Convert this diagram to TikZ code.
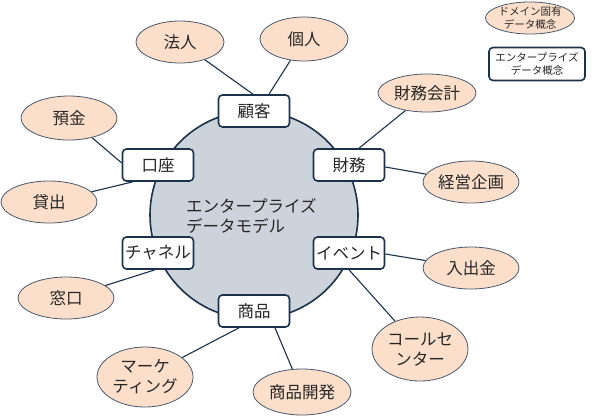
\documentclass[tikz,border=0pt]{standalone}
\usepackage{fontspec}
\setmainfont{Noto Sans CJK JP}
\usetikzlibrary{shapes.geometric,calc}
\definecolor{navy}{HTML}{1B324A}
\definecolor{peach}{HTML}{FCDFCA}
\definecolor{hub}{HTML}{CDD3DB}
\definecolor{txt}{HTML}{262626}
\definecolor{ellb}{HTML}{4A5A6E}
\tikzset{
  ent/.style={draw=navy,line width=1.6pt,fill=white,rounded corners=4pt,minimum width=71pt,minimum height=32pt,inner sep=0pt,font=\fontsize{16.5}{18}\selectfont,text=txt},
  dom/.style={ellipse,draw=ellb,line width=0.8pt,fill=peach,inner sep=0pt,font=\fontsize{16.5}{18}\selectfont,text=txt,align=center},
  link/.style={draw=navy,line width=1.1pt},
}
\begin{document}
\begin{tikzpicture}[x=1pt,y=-1pt]
\useasboundingbox (0,0) rectangle (593,416);
\fill[white] (0,0) rectangle (593,416);
% hub circle
\node[circle,draw=navy,line width=1.6pt,fill=hub,minimum size=208pt,inner sep=0pt] (hubc) at (254,215) {};
\node[anchor=north west,align=left,font=\fontsize{16.5}{20}\selectfont,text=txt,inner sep=0pt] (hubt) at (186,198) {エンタープライズ\\データモデル};
% domain ellipses
\node[dom,minimum width=88pt,minimum height=42pt] (houjin) at (180,42) {法人};
\node[dom,minimum width=88pt,minimum height=44pt] (kojin) at (304,39) {個人};
\node[dom,minimum width=96pt,minimum height=44pt] (yokin) at (69,118) {預金};
\node[dom,minimum width=96pt,minimum height=42pt] (kashi) at (49,202) {貸出};
\node[dom,minimum width=98pt,minimum height=38pt] (zkaikei) at (427,93) {財務会計};
\node[dom,minimum width=96pt,minimum height=42pt] (keiei) at (471,182) {経営企画};
\node[dom,minimum width=96pt,minimum height=42pt] (madoguchi) at (66,298) {窓口};
\node[dom,minimum width=96pt,minimum height=42pt] (nyushukkin) at (471,268) {入出金};
\node[dom,minimum width=96pt,minimum height=64pt,font=\fontsize{16.5}{20}\selectfont] (call) at (420,349) {コールセ\\ンター};
\node[dom,minimum width=96pt,minimum height=60pt,font=\fontsize{16.5}{20}\selectfont] (mkt) at (145,377) {マーケ\\ティング};
\node[dom,minimum width=98pt,minimum height=46pt] (kaihatsu) at (302,392) {商品開発};
% entity boxes
\node[ent] (koky) at (254,111) {顧客};
\node[ent] (kouza) at (158,165) {口座};
\node[ent] (zaimu) at (349,165) {財務};
\node[ent] (channel) at (158,253) {チャネル};
\node[ent] (event) at (349,253) {イベント};
\node[ent] (shohin) at (254,311) {商品};
% links
\draw[link] (houjin) -- ($(koky.north)+(-1,0)$);
\draw[link] (kojin) -- ($(koky.north)+(15,0)$);
\draw[link] (yokin) -- ($(kouza.west)+(0,-2)$);
\draw[link] (kashi) -- ($(kouza.south)+(-25,0)$);
\draw[link] (zkaikei) -- ($(zaimu.north)+(10,0)$);
\draw[link] (keiei) -- ($(zaimu.east)+(0,2)$);
\draw[link] (madoguchi) -- ($(channel.south)+(-3,0)$);
\draw[link] (nyushukkin) -- ($(event.east)+(0,1)$);
\draw[link] (call) -- (event.south);
\draw[link] (mkt) -- ($(shohin.south)+(-15,0)$);
\draw[link] (kaihatsu) -- ($(shohin.south)+(21,0)$);
% legend
\node[dom,minimum width=86pt,minimum height=32pt,font=\fontsize{10.5}{13}\selectfont] (legd) at (530,18) {ドメイン固有\\データ概念};
\node[ent,minimum width=96pt,minimum height=33pt,font=\fontsize{10.5}{13}\selectfont,align=center] (lege) at (537,64) {エンタープライズ\\データ概念};
\end{tikzpicture}
\end{document}
